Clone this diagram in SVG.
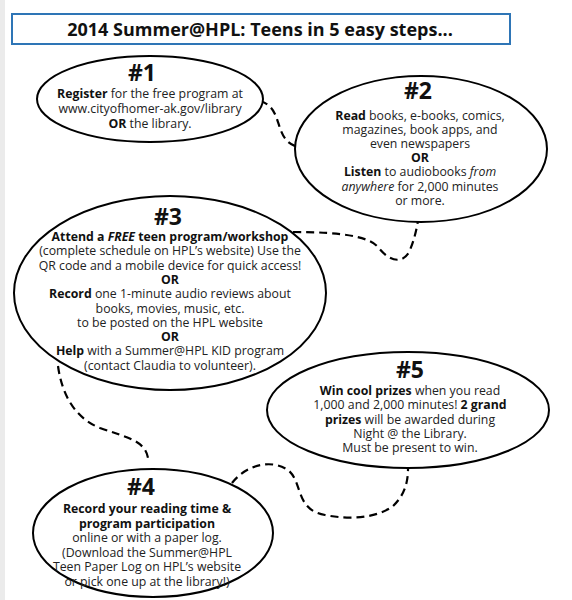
<svg xmlns="http://www.w3.org/2000/svg" width="572" height="600" viewBox="0 0 572 600">
<style>
.bg{fill:#ffffff}
.strip{fill:#ebebeb}
.title-box{fill:#ffffff;stroke:#2e75b6;stroke-width:2}
.title{font-family:"Open Sans","Noto Sans",sans-serif;font-size:18px;font-weight:bold;fill:#111;text-anchor:middle}
.node ellipse{fill:#ffffff;stroke:#000;stroke-width:2}
.num{font-family:"Open Sans","Noto Sans",sans-serif;font-size:23px;font-weight:bold;fill:#111;text-anchor:middle}
.body{font-family:"Open Sans","Noto Sans",sans-serif;font-size:12.3px;fill:#222;text-anchor:middle}
.b{font-weight:bold;fill:#111}
.i{font-style:italic}
.conn path{fill:none;stroke:#000;stroke-width:2.2;stroke-dasharray:8 5}
</style>
<rect class="bg" x="0" y="0" width="572" height="600"/>
<rect class="strip" x="0" y="0" width="5" height="600"/>
<g id="title">
<rect class="title-box" x="12" y="14" width="498" height="30"/>
<text class="title" x="260" y="35.5">2014 Summer@HPL: Teens in 5 easy steps...</text>
</g>
<g id="connectors" class="conn">
<path d="M 260,101 C 285,108 272,140 298,147"/>
<path d="M 293,232 C 340,232 368,236 378,247 C 392,265 405,262 410,250 C 414,240 416,232 418,221"/>
<path d="M 58,366 C 62,395 75,418 100,428 C 125,437 145,440 148,458"/>
<path d="M 232,483 C 245,466 270,458 288,470 C 303,482 295,510 325,515 C 350,520 375,518 392,507 C 403,497 408,485 408,469"/>
</g>
<g id="step1" class="node">
<ellipse cx="150" cy="99" rx="113" ry="43"/>
<text class="num" x="142" y="81">#1</text>
<text class="body" x="150" y="98"><tspan class="b">Register</tspan> for the free program at</text>
<text class="body" x="150" y="113">www.cityofhomer-ak.gov/library</text>
<text class="body" x="150" y="128"><tspan class="b">OR</tspan> the library.</text>
</g>
<g id="step2" class="node">
<ellipse cx="421" cy="149" rx="126" ry="73"/>
<text class="num" x="418" y="99">#2</text>
<text class="body" x="420" y="119.5"><tspan class="b">Read</tspan> books, e-books, comics,</text>
<text class="body" x="420" y="133.7">magazines, book apps, and</text>
<text class="body" x="420" y="148">even newspapers</text>
<text class="body b" x="420" y="162">OR</text>
<text class="body" x="420" y="176"><tspan class="b">Listen</tspan> to audiobooks <tspan class="i">from</tspan></text>
<text class="body" x="420" y="190.5"><tspan class="i">anywhere</tspan> for 2,000 minutes</text>
<text class="body" x="420" y="204.7">or more.</text>
</g>
<g id="step3" class="node">
<ellipse cx="170" cy="293" rx="156" ry="97"/>
<text class="num" x="168" y="225">#3</text>
<text class="body" x="170" y="241"><tspan class="b">Attend a </tspan><tspan class="b i">FREE</tspan><tspan class="b"> teen program/workshop</tspan></text>
<text class="body" x="170" y="255.3">(complete schedule on HPL’s website) Use the</text>
<text class="body" x="170" y="269.6">QR code and a mobile device for quick access!</text>
<text class="body b" x="170" y="283.9">OR</text>
<text class="body" x="170" y="298.2"><tspan class="b">Record</tspan> one 1-minute audio reviews about</text>
<text class="body" x="170" y="312.5">books, movies, music, etc.</text>
<text class="body" x="170" y="326.8">to be posted on the HPL website</text>
<text class="body b" x="170" y="341.1">OR</text>
<text class="body" x="170" y="355.4"><tspan class="b">Help</tspan> with a Summer@HPL KID program</text>
<text class="body" x="170" y="369.7">(contact Claudia to volunteer).</text>
</g>
<g id="step5" class="node">
<ellipse cx="408" cy="410" rx="141" ry="58"/>
<text class="num" x="410" y="378">#5</text>
<text class="body" x="410" y="395"><tspan class="b">Win cool prizes</tspan> when you read</text>
<text class="body" x="410" y="409.3">1,000 and 2,000 minutes! <tspan class="b">2 grand</tspan></text>
<text class="body" x="410" y="423.6"><tspan class="b">prizes</tspan> will be awarded during</text>
<text class="body" x="410" y="437.9">Night @ the Library.</text>
<text class="body" x="410" y="452.2">Must be present to win.</text>
</g>
<g id="step4" class="node">
<ellipse cx="153" cy="533" rx="120" ry="64"/>
<text class="num" x="141" y="495">#4</text>
<text class="body b" x="147" y="513">Record your reading time &amp;</text>
<text class="body b" x="147" y="527.5">program participation</text>
<text class="body" x="147" y="542">online or with a paper log.</text>
<text class="body" x="147" y="556.5">(Download the Summer@HPL</text>
<text class="body" x="147" y="571">Teen Paper Log on HPL’s website</text>
<text class="body" x="147" y="585.5">or pick one up at the library!)</text>
</g>
</svg>
